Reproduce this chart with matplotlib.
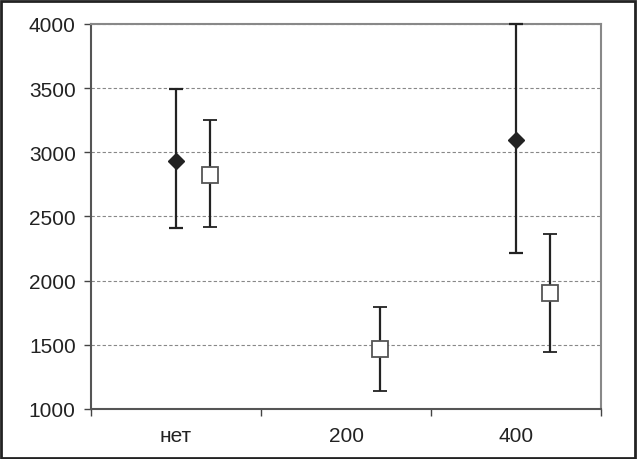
import numpy as np
import matplotlib.pyplot as plt
from matplotlib.patches import Rectangle

plt.rcParams['font.family'] = ['Liberation Sans', 'DejaVu Sans']

categories = ['нет', '200', '400']

# series 1: filled diamonds (no value for 200)
s1_x = [0, 2]
s1_mean = [2935, 3095]
s1_low = [2410, 2215]
s1_high = [3490, 4000]

# series 2: open squares
s2_x = [0, 1, 2]
s2_mean = [2825, 1467, 1903]
s2_low = [2420, 1142, 1445]
s2_high = [3255, 1795, 2365]

fig = plt.figure(figsize=(6.37, 4.60), dpi=100)
ax = fig.add_axes([91 / 637, 50 / 460, 510 / 637, 385 / 460])

s1_mean = np.array(s1_mean)
s2_mean = np.array(s2_mean)
err1 = [s1_mean - np.array(s1_low), np.array(s1_high) - s1_mean]
err2 = [s2_mean - np.array(s2_low), np.array(s2_high) - s2_mean]

ax.errorbar(np.array(s1_x), s1_mean, yerr=err1, fmt='D', color='#222222',
            markersize=8, ecolor='#222222', elinewidth=1.6, capsize=5,
            capthick=1.6, zorder=3, clip_on=False)
ax.errorbar(np.array(s2_x) + 0.2, s2_mean, yerr=err2, fmt='s', color='#222222',
            markerfacecolor='white', markeredgecolor='#555555', markersize=11,
            markeredgewidth=1.3, ecolor='#222222', elinewidth=1.6, capsize=5,
            capthick=1.6, zorder=3)

ax.set_xlim(-0.5, 2.5)
ax.set_ylim(1000, 4000)
ax.set_yticks(np.arange(1000, 4001, 500))
ax.set_xticks([0, 1, 2])
ax.set_xticklabels(categories)
ax.set_xticks([-0.5, 0.5, 1.5, 2.5], minor=True)
ax.tick_params(axis='x', which='major', length=0, pad=12, labelsize=15, labelcolor='#222222')
ax.tick_params(axis='x', which='minor', length=5, width=1, color='#444444')
ax.tick_params(axis='y', length=5, width=1, color='#444444', labelsize=15,
               labelcolor='#222222', pad=6)

ax.yaxis.grid(True, linestyle=(0, (3, 2)), color='#888888', linewidth=0.8)
ax.set_axisbelow(True)
for side in ['left', 'bottom']:
    ax.spines[side].set_color('#555555')
    ax.spines[side].set_linewidth(1.5)
for side in ['top', 'right']:
    ax.spines[side].set_color('#888888')
    ax.spines[side].set_linewidth(1.5)

fig.patches.append(Rectangle((0.002, 0.003), 0.995, 0.993, transform=fig.transFigure,
                             fill=False, edgecolor='#222222', linewidth=2))

fig.savefig('out.png', dpi=100)
